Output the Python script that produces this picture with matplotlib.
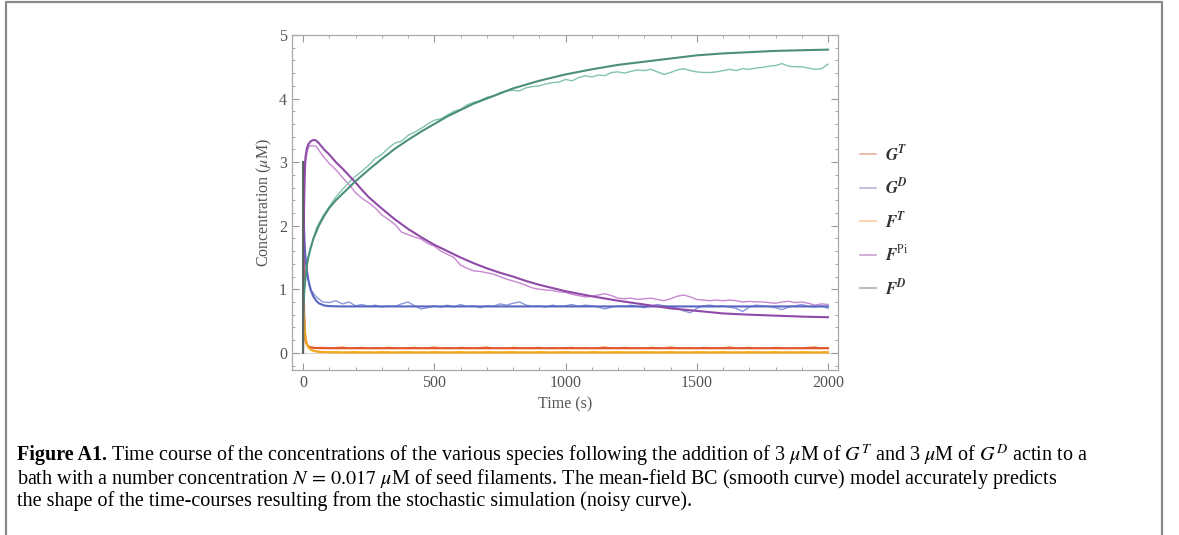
import matplotlib
matplotlib.use("Agg")
import matplotlib.pyplot as plt
from matplotlib.lines import Line2D
from matplotlib.ticker import MultipleLocator

plt.rcParams['font.family'] = ['Liberation Serif', 'DejaVu Serif']
plt.rcParams['mathtext.fontset'] = 'stix'

# ---------------- data ----------------
species = ['G^T', 'G^D', 'F^T', 'F^Pi', 'F^D']

# smooth (mean-field) curves
sm_t = [0, 1, 2, 4, 6, 8, 10, 15, 20, 30,
        40, 50, 60, 80, 100, 125, 150, 175, 200, 225,
        250, 300, 350, 400, 450, 500, 550, 600, 650, 700,
        750, 800, 850, 900, 950, 1000, 1100, 1200, 1300, 1400,
        1500, 1600, 1700, 1800, 1900, 2000]
sm_GT = [3.0, 2.1, 1.4, 0.7, 0.42, 0.28, 0.2, 0.13, 0.1, 0.085,
         0.078, 0.076, 0.075, 0.073, 0.072] + [0.072] * 31
sm_GD = [3.0, 2.6, 2.3, 1.95, 1.72, 1.57, 1.47, 1.28, 1.15, 0.98,
         0.88, 0.82, 0.78, 0.745, 0.735, 0.732, 0.73] + [0.73] * 29
sm_FT = [0.0, 0.6, 0.65, 0.55, 0.42, 0.3, 0.22, 0.13, 0.09, 0.05,
         0.03, 0.02, 0.015, 0.01, 0.008, 0.006, 0.005] + [0.005] * 29
sm_FPi = [0.0, 0.8, 1.5, 2.3, 2.75, 3.0, 3.1, 3.22, 3.28, 3.33,
          3.35, 3.34, 3.3, 3.2, 3.12, 3.0, 2.9, 2.79, 2.68, 2.56,
          2.45, 2.27, 2.1, 1.95, 1.82, 1.7, 1.6, 1.5, 1.41, 1.33,
          1.26, 1.2, 1.13, 1.07, 1.02, 0.97, 0.89, 0.82, 0.76, 0.70,
          0.66, 0.62, 0.60, 0.585, 0.57, 0.56]
sm_FD = [0.0, 0.5, 0.72, 0.92, 1.03, 1.12, 1.2, 1.38, 1.5, 1.66,
         1.8, 1.9, 2.0, 2.15, 2.28, 2.4, 2.5, 2.6, 2.7, 2.79,
         2.88, 3.05, 3.21, 3.35, 3.48, 3.6, 3.72, 3.82, 3.92, 4.0,
         4.08, 4.16, 4.22, 4.28, 4.33, 4.38, 4.46, 4.53, 4.58, 4.63,
         4.68, 4.71, 4.73, 4.75, 4.76, 4.77]

# noisy (stochastic simulation) curves
nz_t = [0, 5, 10, 15, 20] + list(range(25, 2001, 25))
nz_GT = [3.0, 0.45, 0.2, 0.13, 0.1,
         0.09, 0.08, 0.085, 0.075, 0.08, 0.09, 0.075, 0.08, 0.085, 0.07, 0.08, 0.075, 0.085, 0.08, 0.07,
         0.08, 0.085, 0.075, 0.08, 0.09, 0.075, 0.08, 0.07, 0.085, 0.08, 0.075, 0.08, 0.09, 0.075, 0.08,
         0.07, 0.085, 0.08, 0.075, 0.08, 0.085, 0.07, 0.08, 0.075, 0.08,
         0.085, 0.075, 0.08, 0.07, 0.08, 0.09, 0.075, 0.08, 0.085, 0.075, 0.08, 0.07, 0.085, 0.08, 0.075,
         0.09, 0.08, 0.075, 0.08, 0.07, 0.085, 0.08, 0.075, 0.08, 0.09, 0.075, 0.08, 0.085, 0.07, 0.08,
         0.075, 0.085, 0.08, 0.07, 0.08, 0.075, 0.085, 0.09, 0.075, 0.08]
nz_GD = [3.0, 1.75, 1.45, 1.28, 1.15,
         1.02, 0.88, 0.8, 0.79, 0.82, 0.77, 0.8, 0.74, 0.76, 0.73, 0.75, 0.72, 0.74, 0.73, 0.77,
         0.8, 0.74, 0.69, 0.71, 0.74, 0.72, 0.75, 0.72, 0.76, 0.73, 0.74, 0.71, 0.74, 0.73, 0.77,
         0.75, 0.78, 0.8, 0.75, 0.73, 0.74, 0.72, 0.75, 0.73, 0.74,
         0.76, 0.73, 0.75, 0.74, 0.72, 0.69, 0.72, 0.74, 0.73, 0.75, 0.73, 0.71, 0.74, 0.76, 0.74,
         0.72, 0.7, 0.66, 0.63, 0.7, 0.74, 0.75, 0.73, 0.74, 0.72, 0.7, 0.65, 0.72, 0.75, 0.74,
         0.73, 0.71, 0.68, 0.72, 0.74, 0.76, 0.73, 0.72, 0.74, 0.70]
nz_FT = [0.0, 0.38, 0.22, 0.14, 0.09,
         0.06, 0.03, 0.02, 0.015, 0.02, 0.01, 0.015, 0.02, 0.01, 0.015, 0.01, 0.02, 0.015, 0.01, 0.015,
         0.02, 0.01, 0.015, 0.01, 0.02, 0.015, 0.01, 0.015, 0.02, 0.01, 0.015, 0.01, 0.02, 0.015, 0.01,
         0.015, 0.02, 0.01, 0.015, 0.01, 0.02, 0.015, 0.01, 0.015, 0.02,
         0.01, 0.015, 0.01, 0.02, 0.015, 0.01, 0.015, 0.02, 0.01, 0.015, 0.01, 0.02, 0.015, 0.01, 0.015,
         0.02, 0.01, 0.015, 0.01, 0.02, 0.015, 0.01, 0.015, 0.02, 0.01, 0.015, 0.01, 0.02, 0.015, 0.01,
         0.015, 0.02, 0.01, 0.015, 0.01, 0.02, 0.015, 0.01, 0.015, 0.02]
nz_FPi = [0.0, 2.6, 3.0, 3.15, 3.22,
          3.26, 3.25, 3.1, 2.98, 2.88, 2.76, 2.65, 2.52, 2.43, 2.36, 2.28, 2.17, 2.1, 2.02, 1.9,
          1.86, 1.82, 1.79, 1.72, 1.68, 1.6, 1.55, 1.5, 1.38, 1.33, 1.29, 1.28, 1.26, 1.24, 1.2,
          1.16, 1.13, 1.1, 1.06, 1.02, 1.0, 0.99, 0.98, 0.96, 0.95,
          0.92, 0.9, 0.88, 0.89, 0.91, 0.93, 0.9, 0.86, 0.85, 0.86, 0.84, 0.85, 0.86, 0.84, 0.82,
          0.85, 0.89, 0.91, 0.88, 0.84, 0.83, 0.82, 0.83, 0.82, 0.83, 0.82, 0.80, 0.81, 0.80, 0.80,
          0.79, 0.78, 0.80, 0.81, 0.79, 0.80, 0.78, 0.75, 0.77, 0.76]
nz_FD = [0.0, 1.0, 1.2, 1.4, 1.5,
         1.6, 1.95, 2.15, 2.3, 2.45, 2.57, 2.68, 2.78, 2.86, 2.95, 3.06, 3.12, 3.22, 3.3, 3.33,
         3.42, 3.47, 3.53, 3.6, 3.66, 3.68, 3.74, 3.8, 3.83, 3.9, 3.94, 3.97, 4.02, 4.04, 4.09,
         4.12, 4.13, 4.12, 4.17, 4.19, 4.2, 4.23, 4.25, 4.26, 4.3,
         4.28, 4.33, 4.36, 4.34, 4.37, 4.36, 4.41, 4.42, 4.4, 4.43, 4.45, 4.44, 4.46, 4.42, 4.38,
         4.41, 4.45, 4.47, 4.44, 4.42, 4.41, 4.41, 4.42, 4.44, 4.46, 4.44, 4.47, 4.46, 4.48, 4.49,
         4.51, 4.52, 4.55, 4.51, 4.5, 4.5, 4.48, 4.46, 4.47, 4.54]

# initial vertical segment at t = 0
init_t = [0, 0]
init_c = [0.0, 3.0]

x_ticks = [0, 500, 1000, 1500, 2000]
y_ticks = [0, 1, 2, 3, 4, 5]

# ---------------- styles ----------------
smooth_colors = {'G^T': '#e2562a', 'G^D': '#5866c0', 'F^T': '#f4a81e', 'F^Pi': '#8e4aa6', 'F^D': '#4c8f7c'}
noisy_colors = {'G^T': '#d9733a', 'G^D': '#8a98dc', 'F^T': '#f7c24a', 'F^Pi': '#c887d2', 'F^D': '#82c4aa'}
legend_colors = {'G^T': '#e8b49a', 'G^D': '#b4b6d2', 'F^T': '#f5cc98', 'F^Pi': '#c9a2d2', 'F^D': '#a9afae'}
legend_labels = {'G^T': r'$\mathbfit{G}^{\mathbfit{T}}$', 'G^D': r'$\mathbfit{G}^{\mathbfit{D}}$',
                 'F^T': r'$\mathbfit{F}^{\mathbfit{T}}$', 'F^Pi': r'$\mathbfit{F}^{\mathrm{Pi}}$',
                 'F^D': r'$\mathbfit{F}^{\mathbfit{D}}$'}

W, H = 1179, 535
fig = plt.figure(figsize=(W / 100, H / 100), dpi=100)
ax = fig.add_axes([292 / W, 1 - 370 / H, 546 / W, 335 / H])

smooth = {'G^T': sm_GT, 'G^D': sm_GD, 'F^T': sm_FT, 'F^Pi': sm_FPi, 'F^D': sm_FD}
noisy = {'G^T': nz_GT, 'G^D': nz_GD, 'F^T': nz_FT, 'F^Pi': nz_FPi, 'F^D': nz_FD}

ax.axhline(0, color='#d8d8d8', lw=0.8, zorder=0)
for s in species:
    ax.plot(nz_t, noisy[s], color=noisy_colors[s], lw=1.0, zorder=2)
for s in species:
    ax.plot(sm_t, smooth[s], color=smooth_colors[s], lw=1.5, zorder=3)
ax.plot(init_t, init_c, color='#5a6460', lw=1.4, zorder=4)

ax.set_xlim(-42, 2038)
ax.set_ylim(-0.27, 5.0)
ax.set_xticks(x_ticks)
ax.set_yticks(y_ticks)
ax.xaxis.set_minor_locator(MultipleLocator(100))
ax.yaxis.set_minor_locator(MultipleLocator(0.2))
ax.tick_params(which='both', direction='in', top=True, right=True, color='#999999',
               labelcolor='#555555', labelsize=11.5)
ax.tick_params(which='major', length=5, width=0.8)
ax.tick_params(which='minor', length=2.5, width=0.6)
for sp in ax.spines.values():
    sp.set_color('#a8a8a8')
    sp.set_linewidth(0.9)
ax.set_xlabel('Time (s)', color='#555555', fontsize=11.5, labelpad=4)
ax.set_ylabel(r'Concentration ($\mu$M)', color='#555555', fontsize=11.5, labelpad=4)

# legend (drawn in figure pixel positions)
for i, s in enumerate(species):
    yy = 1 - (154 + 33.6 * i) / H
    fig.add_artist(Line2D([860 / W, 876 / W], [yy, yy], transform=fig.transFigure,
                          color=legend_colors[s], lw=1.2))
    fig.text(885 / W, yy, legend_labels[s], fontsize=12, color='#333333', va='center', ha='left')

# outer frame
fig.add_artist(Line2D([6 / W, 6 / W, 1162 / W, 1162 / W], [0, 1 - 2 / H, 1 - 2 / H, 0],
                      transform=fig.transFigure, color='#8a8a8a', lw=1.6))

# caption
cap_fs = 14.5
fig.canvas.draw()
r = fig.canvas.get_renderer()
y1 = 1 - 455 / H
t_bold = fig.text(17 / W, y1, 'Figure A1.', fontsize=cap_fs, fontweight='bold', va='center', ha='left')
bb = t_bold.get_window_extent(renderer=r)
fig.text((bb.x1 + 4) / W, y1,
         r'Time course of the concentrations of the various species following the addition of 3 $\mu$M of $G^T$'
         r' and 3 $\mu$M of $G^D$ actin to a', fontsize=cap_fs, va='center', ha='left')
fig.text(17 / W, 1 - 479 / H,
         r'bath with a number concentration $N\,=\,0.017$ $\mu$M of seed filaments. The mean-field BC (smooth curve)'
         r' model accurately predicts', fontsize=cap_fs, va='center', ha='left')
fig.text(17 / W, 1 - 501 / H,
         'the shape of the time-courses resulting from the stochastic simulation (noisy curve).',
         fontsize=cap_fs, va='center', ha='left')

fig.savefig('out.png', dpi=100)
